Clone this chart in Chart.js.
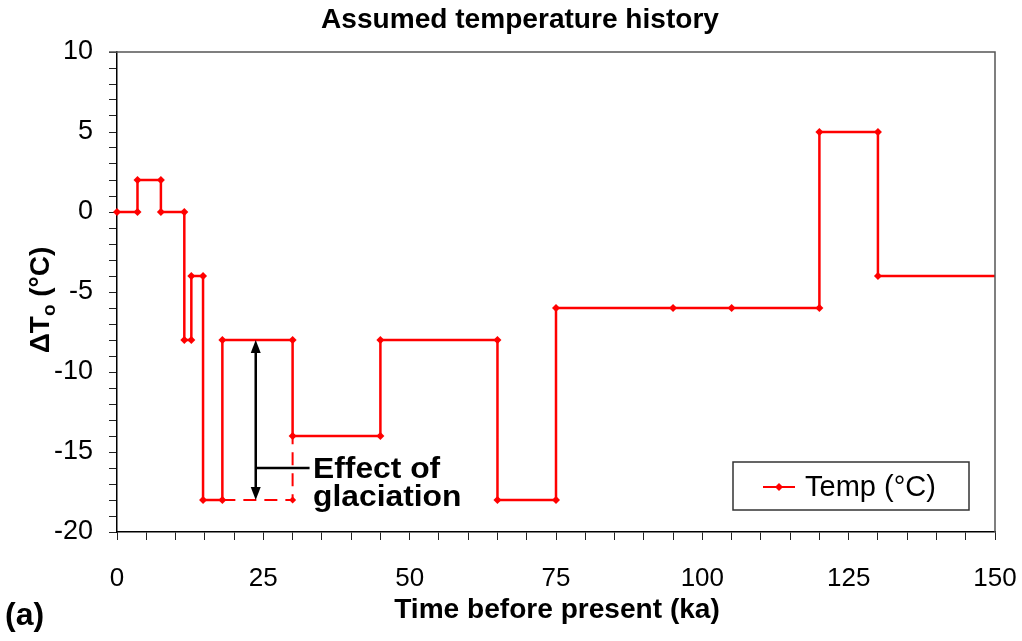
<!DOCTYPE html>
<html>
<head>
<meta charset="utf-8">
<title>Assumed temperature history</title>
<script src="https://cdn.jsdelivr.net/npm/chart.js@4"></script>
<style>
	body { margin: 0; background: #fff; }
	#chart { display: block; }
</style>
</head>
<body>
<canvas id="chart" width="1022" height="641"></canvas>
<script>
// step history of temperature offset (ka before present, degC)
const timeKa = [0, 3.5, 3.5, 7.5, 7.5, 11.5, 11.5, 12.7, 12.7, 14.7, 14.7, 18, 18, 30, 30, 45, 45, 65, 65, 75, 75, 95, 105, 120, 120, 130, 130, 150];
const tempC = [0, 0, 2, 2, 0, 0, -8, -8, -4, -4, -18, -18, -8, -8, -14, -14, -8, -8, -18, -18, -6, -6, -6, -6, 5, 5, -4, -4];

// dashed "no glaciation" branch
const noIceTime = [18, 30, 30];
const noIceTemp = [-18, -18, -14];

// arrow for "Effect of glaciation"
const arrowX = 23.7;
const arrowFrom = -8;
const arrowTo = -18;
const leaderY = -16;
const leaderEnd = 32.9;

const xTicks = [0, 25, 50, 75, 100, 125, 150];
const yTicks = [10, 5, 0, -5, -10, -15, -20];

const FONT = "'Liberation Sans', Arial, sans-serif";

const toPoints = (xs, ys) => xs.map((x, i) => ({ x: x, y: ys[i] }));

// text a bit wider than the font, like the stretched original
function wideText(ctx, text, x, y, sx) {
	ctx.save();
	ctx.translate(x, y);
	ctx.scale(sx, 1);
	ctx.fillText(text, 0, 0);
	ctx.restore();
}

const decorations = {
	id: "decorations",
	afterDraw(chart) {
		const ctx = chart.ctx;
		const area = chart.chartArea;
		const xs = chart.scales.x;
		const ys = chart.scales.y;

		ctx.save();

		// frame top and right
		ctx.strokeStyle = "#555";
		ctx.lineWidth = 1.5;
		ctx.beginPath();
		ctx.moveTo(area.left - 8, area.top);
		ctx.lineTo(area.right, area.top);
		ctx.lineTo(area.right, area.bottom);
		ctx.stroke();

		// double arrow
		const ax = xs.getPixelForValue(arrowX);
		const y1 = ys.getPixelForValue(arrowFrom);
		const y2 = ys.getPixelForValue(arrowTo);
		ctx.strokeStyle = "#000";
		ctx.fillStyle = "#000";
		ctx.lineWidth = 2.5;
		ctx.beginPath();
		ctx.moveTo(ax, y1 + 10);
		ctx.lineTo(ax, y2 - 10);
		ctx.stroke();
		ctx.beginPath();
		ctx.moveTo(ax, y1);
		ctx.lineTo(ax - 5, y1 + 13);
		ctx.lineTo(ax + 5, y1 + 13);
		ctx.closePath();
		ctx.fill();
		ctx.beginPath();
		ctx.moveTo(ax, y2);
		ctx.lineTo(ax - 5, y2 - 13);
		ctx.lineTo(ax + 5, y2 - 13);
		ctx.closePath();
		ctx.fill();

		const ly = ys.getPixelForValue(leaderY);
		ctx.beginPath();
		ctx.moveTo(ax, ly);
		ctx.lineTo(xs.getPixelForValue(leaderEnd), ly);
		ctx.stroke();

		ctx.textAlign = "left";
		ctx.textBaseline = "alphabetic";
		ctx.font = "bold 30px " + FONT;
		wideText(ctx, "Effect of", 313, 478, 1.06);
		wideText(ctx, "glaciation", 313, 506, 1.06);

		// legend
		ctx.strokeStyle = "#333";
		ctx.lineWidth = 1.5;
		ctx.strokeRect(733, 462, 236, 48);
		ctx.strokeStyle = "#ff0000";
		ctx.lineWidth = 2;
		ctx.beginPath();
		ctx.moveTo(763, 487);
		ctx.lineTo(795, 487);
		ctx.stroke();
		ctx.fillStyle = "#ff0000";
		ctx.beginPath();
		ctx.moveTo(779, 483);
		ctx.lineTo(783, 487);
		ctx.lineTo(779, 491);
		ctx.lineTo(775, 487);
		ctx.closePath();
		ctx.fill();
		ctx.fillStyle = "#000";
		ctx.font = "29px " + FONT;
		ctx.textBaseline = "middle";
		ctx.fillText("Temp (\u00b0C)", 805, 488);

		// titles
		ctx.textBaseline = "alphabetic";
		ctx.textAlign = "center";
		ctx.font = "bold 27px " + FONT;
		wideText(ctx, "Assumed temperature history", 520, 28, 1.04);
		wideText(ctx, "Time before present (ka)", 557, 618, 1.04);

		ctx.textAlign = "left";
		ctx.font = "bold 32px " + FONT;
		ctx.fillText("(a)", 5, 625);

		// y axis title with subscript
		ctx.translate(49, 300);
		ctx.rotate(-Math.PI / 2);
		const big = "bold 28px " + FONT;
		const small = "bold 19px " + FONT;
		ctx.font = big;
		const w1 = ctx.measureText("\u0394T").width;
		const w3 = ctx.measureText(" (\u00b0C)").width;
		ctx.font = small;
		const w2 = ctx.measureText("o").width;
		let x0 = -(w1 + w2 + w3) / 2;
		ctx.font = big;
		ctx.fillText("\u0394T", x0, 0);
		ctx.font = small;
		ctx.fillText("o", x0 + w1, 6);
		ctx.font = big;
		ctx.fillText(" (\u00b0C)", x0 + w1 + w2, 0);

		ctx.restore();
	}
};

const lastIndex = timeKa.length - 1;

new Chart(document.getElementById("chart"), {
	type: "scatter",
	data: {
		datasets: [{
			label: "Temp (\u00b0C)",
			data: toPoints(timeKa, tempC),
			showLine: true,
			borderColor: "#ff0000",
			backgroundColor: "#ff0000",
			borderWidth: 2.5,
			pointStyle: "rectRot",
			pointRadius: c => c.dataIndex === lastIndex ? 0 : 4,
			pointBorderWidth: 0,
			clip: false
		}, {
			label: "no glaciation",
			data: toPoints(noIceTime, noIceTemp),
			showLine: true,
			borderColor: "#ff0000",
			backgroundColor: "#ff0000",
			borderWidth: 2,
			borderDash: [13, 8],
			pointStyle: "rectRot",
			pointRadius: c => c.dataIndex === 1 ? 3.5 : 0,
			pointBorderWidth: 0,
			clip: false
		}]
	},
	options: {
		responsive: false,
		animation: false,
		devicePixelRatio: 1,
		layout: { padding: { left: 0, right: 27, top: 52, bottom: 0 } },
		plugins: {
			legend: { display: false },
			title: { display: false },
			tooltip: { enabled: false }
		},
		scales: {
			x: {
				type: "linear",
				min: 0,
				max: 150,
				afterFit: s => {
					s.height = 109;
					s.paddingLeft = 0;
					s.paddingRight = 0;
				},
				border: { display: true, color: "#000", width: 1.5 },
				grid: { drawOnChartArea: false, drawTicks: true, tickLength: 8, color: "#222" },
				ticks: {
					stepSize: 5,
					autoSkip: false,
					maxRotation: 0,
					padding: 23,
					color: "#000",
					font: { family: FONT, size: 26 },
					callback: v => xTicks.includes(v) ? String(v) : ""
				}
			},
			y: {
				type: "linear",
				min: -20,
				max: 10,
				afterFit: s => {
					s.width = 117;
					s.paddingTop = 0;
					s.paddingBottom = 0;
				},
				border: { display: true, color: "#000", width: 1.5 },
				grid: { drawOnChartArea: false, drawTicks: true, tickLength: 8, color: "#222" },
				ticks: {
					stepSize: 1,
					autoSkip: false,
					padding: 16,
					color: "#000",
					font: { family: FONT, size: 27 },
					callback: v => yTicks.includes(v) ? String(v) : ""
				}
			}
		}
	},
	plugins: [decorations]
});
</script>
</body>
</html>
